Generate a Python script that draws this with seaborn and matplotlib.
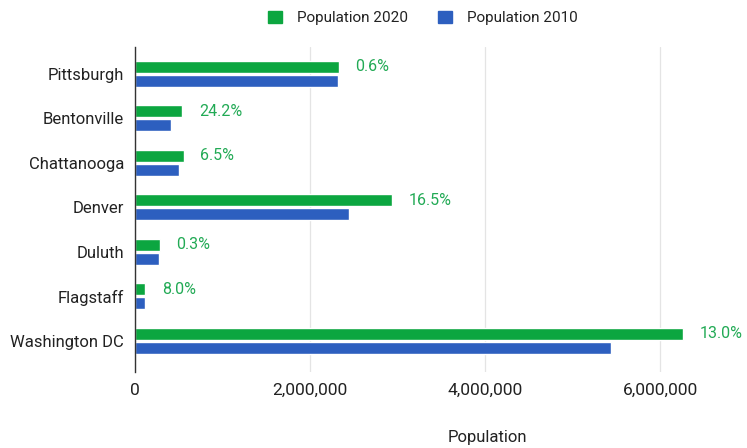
import matplotlib
matplotlib.use("Agg")
import matplotlib.pyplot as plt
import seaborn as sns
import pandas as pd
from matplotlib.ticker import FuncFormatter
from matplotlib.patches import Patch

cities = ["Pittsburgh", "Bentonville", "Chattanooga", "Denver", "Duluth", "Flagstaff", "Washington DC"]
pop_2020 = [2330000, 540000, 556000, 2940000, 280000, 115000, 6260000]
pop_2010 = [2316000, 410000, 506000, 2440000, 279000, 110000, 5440000]
growth_labels = ["0.6%", "24.2%", "6.5%", "16.5%", "0.3%", "8.0%", "13.0%"]
series = ["Population 2020", "Population 2010"]
x_ticks = [0, 2000000, 4000000, 6000000]

GREEN = "#0ca640"
BLUE = "#2d5fbf"

df = pd.DataFrame({
    "City": cities * 2,
    "Population": pop_2020 + pop_2010,
    "Series": [series[0]] * len(cities) + [series[1]] * len(cities),
})

sns.set_theme(style="white")
plt.rcParams["font.family"] = ["Roboto", "DejaVu Sans"]

fig = plt.figure(figsize=(7.47, 4.48), dpi=100)
ax = fig.add_axes([135 / 747, 1 - 372 / 448, 568.75 / 747, (372 - 47) / 448])

sns.barplot(data=df, y="City", x="Population", hue="Series", order=cities,
            hue_order=series, palette=[GREEN, BLUE], orient="h", saturation=1,
            width=0.62, gap=0.12, errorbar=None, ax=ax, legend=False)

ax.set_xlim(0, 6500000)
ax.set_ylim(6.7, -0.6)
ax.set_xticks(x_ticks)
ax.xaxis.set_major_formatter(FuncFormatter(lambda v, p: f"{int(v):,}"))
ax.grid(axis="x", color="#e4e4e4", linewidth=0.9)
ax.set_axisbelow(True)
for s in ["top", "right", "bottom"]:
    ax.spines[s].set_visible(False)
ax.spines["left"].set_color("#333333")
ax.spines["left"].set_linewidth(1.0)
ax.tick_params(axis="both", length=0, colors="#222222")
ax.tick_params(axis="y", labelsize=12, pad=8)
ax.tick_params(axis="x", labelsize=12.5, pad=8)
ax.set_ylabel("")
ax.set_xlabel("Population", fontsize=12, color="#222222")
ax.xaxis.label.set_va("center")
ax.xaxis.set_label_coords((487 - 135) / 568.75, -(437 - 372) / 325)

# growth labels
for i, (v, lab) in enumerate(zip(pop_2020, growth_labels)):
    ax.annotate(lab, xy=(v, i - 0.155), xytext=(12, 0), textcoords="offset points",
                va="center", ha="left", fontsize=11.5, color="#22aa55")

# legend
handles = [Patch(facecolor=GREEN, edgecolor=GREEN), Patch(facecolor=BLUE, edgecolor=BLUE)]
fig.legend(handles, series, loc="center", bbox_to_anchor=(423 / 747, 1 - 18 / 448),
           ncol=2, frameon=False, fontsize=11, handlelength=0.9, handleheight=0.9,
           columnspacing=2.0, handletextpad=1.0, labelcolor="#222222")

fig.savefig("out.png", dpi=100)
